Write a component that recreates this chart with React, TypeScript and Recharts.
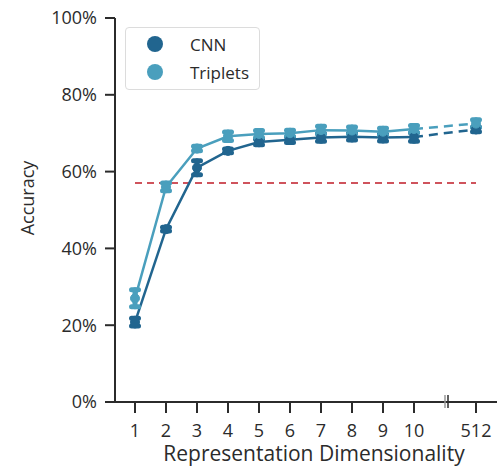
import {
  LineChart,
  Line,
  XAxis,
  YAxis,
  ErrorBar,
  ReferenceLine,
  ReferenceDot,
  Legend,
  Label,
} from "recharts";

const dims = ["1", "2", "3", "4", "5", "6", "7", "8", "9", "10", "gap", "512"];
const cnn = [20.8, 45, 61, 65.4, 67.7, 68.3, 68.9, 69.1, 68.9, 69.0, null, 71.0];
const cnnErr = [1, 0.5, 1.8, 0.5, 0.7, 0.7, 1, 0.9, 0.9, 1.1, null, 0.6];
const triplets = [27, 56, 66, 69.2, 69.8, 70, 70.8, 70.7, 70.4, 71.1, null, 72.5];
const tripletsErr = [2.2, 1, 0.6, 1.1, 0.9, 0.8, 1, 0.9, 0.9, 0.9, null, 1];
const baseline = 57;
const yTicks = [0, 20, 40, 60, 80, 100];
const xTicks = ["1", "2", "3", "4", "5", "6", "7", "8", "9", "10", "512"];

const CNN_COLOR = "#21658f";
const TRIP_COLOR = "#4a9fbd";
const FONT = "'Open Sans', sans-serif";
const INK = "#2b2b2b";

// Dashed segment only covers the jump from 10 to 512
const lastIdx = dims.length - 1;
const dashFrom = dims.indexOf("10");

const data = dims.map((d, i) => ({
  dim: d,
  cnn: cnn[i],
  cnnErr: cnnErr[i],
  trip: triplets[i],
  tripErr: tripletsErr[i],
  cnnDash: i === dashFrom || i === lastIdx ? cnn[i] : null,
  tripDash: i === dashFrom || i === lastIdx ? triplets[i] : null,
}));

const legendItems = [
  { name: "CNN", color: CNN_COLOR },
  { name: "Triplets", color: TRIP_COLOR },
];

function LegendBox() {
  return (
    <div
      style={{
        width: 133,
        height: 61,
        border: "1px solid #dcdcdc",
        borderRadius: 4,
        background: "#fff",
        fontFamily: FONT,
        fontSize: 17,
        color: INK,
        boxSizing: "content-box",
      }}
    >
      {legendItems.map((it, i) => (
        <div
          key={it.name}
          style={{
            position: "absolute",
            left: 0,
            top: 3 + i * 28,
            height: 28,
            display: "flex",
            alignItems: "center",
          }}
        >
          <span
            style={{
              display: "inline-block",
              width: 16,
              height: 16,
              borderRadius: 8,
              background: it.color,
              marginLeft: 22,
            }}
          />
          <span style={{ marginLeft: 27 }}>{it.name}</span>
        </div>
      ))}
    </div>
  );
}

function BreakMark(props: any) {
  const { cx, cy } = props;
  if (cx == null || cy == null) return null;
  return (
    <g>
      <line x1={cx} x2={cx} y1={cy - 7} y2={cy + 6} stroke="#999" strokeWidth={1.5} />
      <line x1={cx + 3} x2={cx + 3} y1={cy - 7} y2={cy + 6} stroke={INK} strokeWidth={1.5} />
    </g>
  );
}

function YTitle(props: any) {
  const { viewBox } = props;
  const cy = viewBox.y + viewBox.height / 2 - 12;
  const x = 27;
  return (
    <text
      x={x}
      y={cy}
      transform={`rotate(-90, ${x}, ${cy})`}
      textAnchor="middle"
      dominantBaseline="central"
      fontFamily={FONT}
      fontSize={18}
      fill={INK}
    >
      Accuracy
    </text>
  );
}

export default function App() {
  const tick = { fill: INK, fontSize: 18, fontFamily: FONT };
  const errProps = { strokeWidth: 5, strokeLinecap: "round" as const, width: 3.5 };
  return (
    <div style={{ position: "absolute", left: 0, top: 0 }}>
      <LineChart
        width={498}
        height={469}
        data={data}
        margin={{ top: 18, right: 1, left: 55, bottom: 37 }}
      >
        <XAxis
          dataKey="dim"
          type="category"
          ticks={xTicks}
          interval={0}
          tick={tick}
          tickSize={11}
          tickMargin={11}
          height={30}
          padding={{ left: 20, right: 21 }}
          axisLine={{ stroke: INK, strokeWidth: 2 }}
          tickLine={{ stroke: INK, strokeWidth: 2 }}
        >
          <Label
            value="Representation Dimensionality"
            position="bottom"
            offset={14}
            dx={8}
            style={{ fontFamily: FONT, fontSize: 21, fill: INK }}
          />
        </XAxis>
        <YAxis
          type="number"
          domain={[0, 100]}
          ticks={yTicks}
          width={60}
          tick={tick}
          tickSize={10}
          tickMargin={8}
          tickFormatter={(v: number) => `${v}%`}
          axisLine={{ stroke: INK, strokeWidth: 2 }}
          tickLine={{ stroke: INK, strokeWidth: 2 }}
        >
          <Label content={<YTitle />} />
        </YAxis>
        <ReferenceLine
          segment={[
            { x: "1", y: baseline },
            { x: "512", y: baseline },
          ]}
          stroke="#cf535c"
          strokeWidth={2}
          strokeDasharray="7 5"
          ifOverflow="visible"
        />
        <ReferenceDot x="gap" y={0} r={0} ifOverflow="visible" shape={<BreakMark />} />
        <Line
          dataKey="cnnDash"
          stroke={CNN_COLOR}
          strokeWidth={2.5}
          strokeDasharray="9 6"
          connectNulls
          dot={false}
          activeDot={false}
          isAnimationActive={false}
          legendType="none"
        />
        <Line
          dataKey="cnn"
          name="CNN"
          stroke={CNN_COLOR}
          strokeWidth={2.5}
          dot={{ r: 4.5, fill: CNN_COLOR, stroke: CNN_COLOR, strokeWidth: 1 }}
          activeDot={false}
          isAnimationActive={false}
        >
          <ErrorBar dataKey="cnnErr" direction="y" stroke={CNN_COLOR} {...errProps} />
        </Line>
        <Line
          dataKey="tripDash"
          stroke={TRIP_COLOR}
          strokeWidth={2.5}
          strokeDasharray="9 6"
          connectNulls
          dot={false}
          activeDot={false}
          isAnimationActive={false}
          legendType="none"
        />
        <Line
          dataKey="trip"
          name="Triplets"
          stroke={TRIP_COLOR}
          strokeWidth={2.5}
          dot={{ r: 4.5, fill: TRIP_COLOR, stroke: TRIP_COLOR, strokeWidth: 1 }}
          activeDot={false}
          isAnimationActive={false}
        >
          <ErrorBar dataKey="tripErr" direction="y" stroke={TRIP_COLOR} {...errProps} />
        </Line>
        <Legend
          layout="vertical"
          align="center"
          verticalAlign="middle"
          content={<LegendBox />}
          wrapperStyle={{ left: 125, top: 27, width: 135, height: 63 }}
        />
      </LineChart>
    </div>
  );
}
